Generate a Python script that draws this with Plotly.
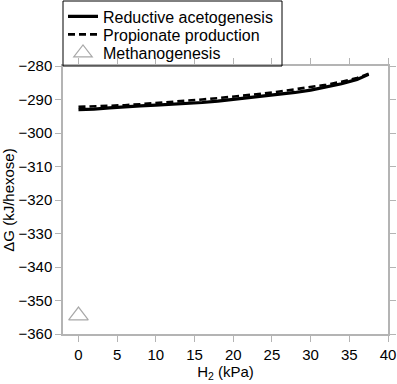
import plotly.graph_objects as go

h2 = [0, 2, 4, 6, 8, 10, 12, 14, 16, 18, 20, 22, 24, 26, 28, 30, 32, 34, 36, 37.5]
acetogenesis = [-293.0, -292.9, -292.5, -292.1, -291.9, -291.7, -291.5, -291.2, -290.9, -290.5,
                -290.0, -289.5, -289.0, -288.5, -287.9, -287.2, -286.3, -285.3, -284.0, -282.5]
propionate = [-292.2, -292.1, -292.0, -291.7, -291.4, -291.1, -290.7, -290.3, -290.0, -289.6,
              -289.2, -288.7, -288.2, -287.6, -287.0, -286.4, -285.6, -284.7, -283.6, -282.3]
methano_x = [0]
methano_y = [-354.5]

W, H = 397, 384
ML, MR, MT, MB = 63, 9, 66, 50
PW, PH = W - ML - MR, H - MT - MB

fig = go.Figure()
fig.add_trace(go.Scatter(x=h2, y=acetogenesis, mode="lines", name="Reductive acetogenesis",
                         line=dict(color="black", width=3.2), legend="legend"))
fig.add_trace(go.Scatter(x=h2, y=propionate, mode="lines", name="Propionate production",
                         line=dict(color="black", width=2.6, dash="7px,4px"), legend="legend2"))
fig.add_trace(go.Scatter(x=methano_x, y=methano_y, mode="markers", name="Methanogenesis",
                         marker=dict(symbol="triangle-up-open", size=17, color="#a8a8a8",
                                     line=dict(width=1.2, color="#a8a8a8")), legend="legend3"))

axis_common = dict(showline=True, linecolor="#b4b4b4", linewidth=1.5, mirror="ticks",
                   ticks="outside", ticklen=6, tickcolor="#b4b4b4", showgrid=False,
                   zeroline=False, tickfont=dict(size=15, color="black"))
fig.update_xaxes(range=[-2, 40], tickvals=[0, 5, 10, 15, 20, 25, 30, 35, 40],
                 title=dict(text="H<sub>2</sub> (kPa)", font=dict(size=15, color="black"), standoff=2),
                 automargin=False, **axis_common)
fig.update_yaxes(range=[-360, -280], tickvals=[-360, -350, -340, -330, -320, -310, -300, -290, -280],
                 title=dict(text="ΔG (kJ/hexose)", font=dict(size=15, color="black"), standoff=6),
                 automargin=False, **axis_common)

# legend frame
fig.add_shape(type="rect", xref="paper", yref="paper",
              x0=0, x1=(282 - ML) / PW, y0=1, y1=1 + 65 / PH,
              line=dict(color="black", width=1), fillcolor="rgba(0,0,0,0)", layer="above")


def leg(yc):
    return dict(x=0, y=1 + (MT - yc) / PH, xanchor="left", yanchor="middle", borderwidth=0,
                bgcolor="rgba(0,0,0,0)", font=dict(size=16), tracegroupgap=0, itemwidth=30)


fig.update_layout(
    width=W, height=H,
    margin=dict(l=ML, r=MR, t=MT, b=MB, autoexpand=False),
    paper_bgcolor="white", plot_bgcolor="white",
    font=dict(family="Liberation Sans, Arial, sans-serif", size=15, color="black"),
    legend=leg(16.5), legend2=leg(34.5), legend3=leg(53),
    showlegend=True,
)

fig.write_html("out.html", config={"displayModeBar": False},
               post_script="document.body.style.margin='0';document.body.style.overflow='hidden';")
